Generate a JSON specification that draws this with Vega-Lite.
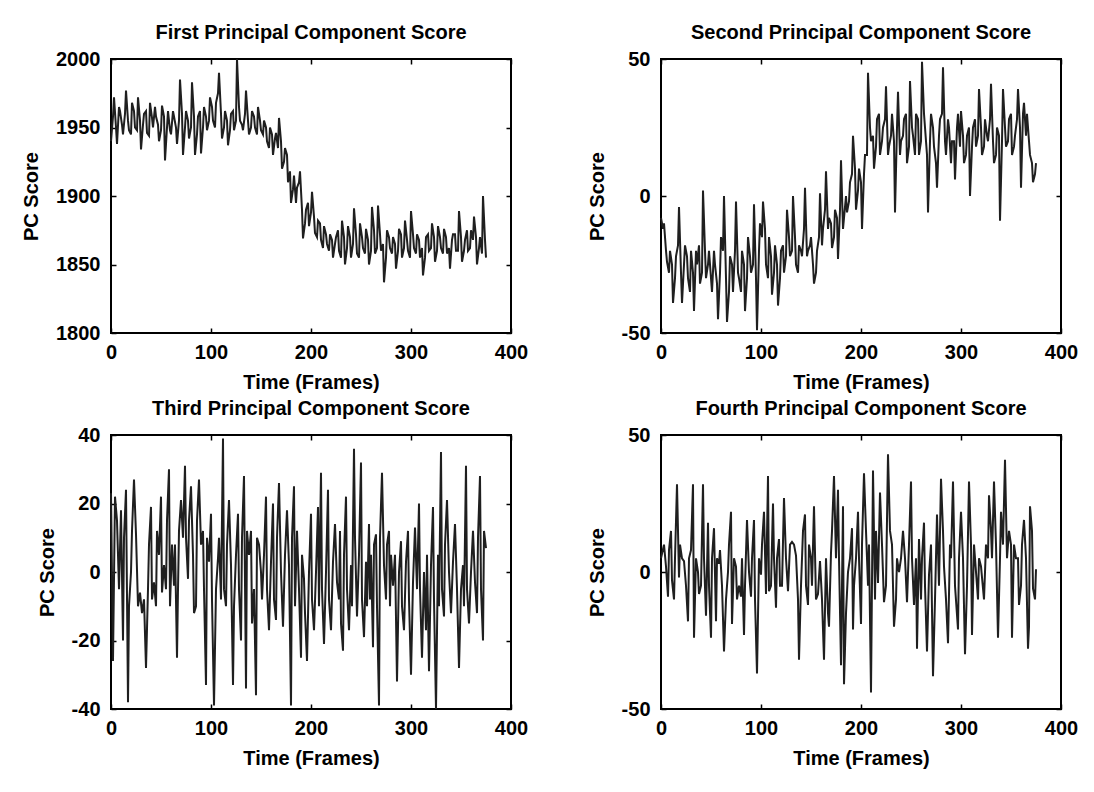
{
  "$schema": "https://vega.github.io/schema/vega-lite/v6.json",
  "background": "white",
  "padding": {"left": 20, "top": 22, "right": 10, "bottom": 10},
  "config": {
    "font": "Liberation Sans",
    "view": {"stroke": "black", "strokeWidth": 2},
    "line": {"color": "#1f1f1f", "strokeWidth": 2},
    "axis": {
      "grid": false, "domain": false, "tickColor": "black", "tickWidth": 1.5, "tickSize": -5,
      "labelFont": "Liberation Sans", "labelFontSize": 20, "labelFontWeight": "bold", "labelColor": "black",
      "titleFont": "Liberation Sans", "titleFontSize": 20, "titleFontWeight": "bold", "titleColor": "black",
      "labelOverlap": false, "labelFlush": false, "labelExpr": "datum.value + ''"
    },
    "axisX": {"labelPadding": 14, "titlePadding": 10},
    "axisY": {"labelPadding": 16, "titlePadding": 14},
    "title": {"font": "Liberation Sans", "fontSize": 20, "fontWeight": "bold", "color": "black", "offset": 6}
  },
  "datasets": {
    "pc1": [{"frame":0,"score":1940},{"frame":3,"score":1972},{"frame":6,"score":1938},{"frame":9,"score":1962},{"frame":12,"score":1945},{"frame":15,"score":1977},{"frame":18,"score":1948},{"frame":21,"score":1968},{"frame":24,"score":1950},{"frame":27,"score":1972},{"frame":30,"score":1934},{"frame":33,"score":1960},{"frame":36,"score":1946},{"frame":39,"score":1968},{"frame":42,"score":1950},{"frame":45,"score":1958},{"frame":48,"score":1940},{"frame":51,"score":1966},{"frame":54,"score":1926},{"frame":57,"score":1962},{"frame":60,"score":1945},{"frame":63,"score":1958},{"frame":66,"score":1938},{"frame":69,"score":1985},{"frame":72,"score":1930},{"frame":75,"score":1962},{"frame":78,"score":1942},{"frame":81,"score":1983},{"frame":84,"score":1930},{"frame":87,"score":1958},{"frame":90,"score":1931},{"frame":93,"score":1965},{"frame":96,"score":1948},{"frame":99,"score":1972},{"frame":102,"score":1955},{"frame":105,"score":1968},{"frame":108,"score":1990},{"frame":111,"score":1942},{"frame":114,"score":1962},{"frame":117,"score":1937},{"frame":120,"score":1960},{"frame":123,"score":1948},{"frame":126,"score":2000},{"frame":129,"score":1955},{"frame":132,"score":1948},{"frame":135,"score":1977},{"frame":138,"score":1945},{"frame":141,"score":1962},{"frame":144,"score":1950},{"frame":147,"score":1965},{"frame":150,"score":1948},{"frame":153,"score":1955},{"frame":156,"score":1940},{"frame":159,"score":1950},{"frame":162,"score":1930},{"frame":165,"score":1946},{"frame":168,"score":1957},{"frame":171,"score":1920},{"frame":174,"score":1935},{"frame":177,"score":1910},{"frame":180,"score":1895},{"frame":183,"score":1915},{"frame":186,"score":1906},{"frame":189,"score":1918},{"frame":192,"score":1869},{"frame":195,"score":1890},{"frame":198,"score":1878},{"frame":201,"score":1903},{"frame":204,"score":1873},{"frame":207,"score":1882},{"frame":210,"score":1868},{"frame":213,"score":1878},{"frame":216,"score":1865},{"frame":219,"score":1872},{"frame":222,"score":1855},{"frame":225,"score":1870},{"frame":228,"score":1860},{"frame":231,"score":1882},{"frame":234,"score":1850},{"frame":237,"score":1878},{"frame":240,"score":1855},{"frame":243,"score":1891},{"frame":246,"score":1858},{"frame":249,"score":1880},{"frame":252,"score":1862},{"frame":255,"score":1876},{"frame":258,"score":1850},{"frame":261,"score":1892},{"frame":264,"score":1858},{"frame":267,"score":1893},{"frame":270,"score":1860},{"frame":273,"score":1837},{"frame":276,"score":1875},{"frame":279,"score":1862},{"frame":282,"score":1870},{"frame":285,"score":1847},{"frame":288,"score":1876},{"frame":291,"score":1855},{"frame":294,"score":1882},{"frame":297,"score":1860},{"frame":300,"score":1889},{"frame":303,"score":1862},{"frame":306,"score":1872},{"frame":309,"score":1855},{"frame":312,"score":1842},{"frame":315,"score":1870},{"frame":318,"score":1860},{"frame":321,"score":1880},{"frame":324,"score":1852},{"frame":327,"score":1878},{"frame":330,"score":1862},{"frame":333,"score":1876},{"frame":336,"score":1858},{"frame":339,"score":1847},{"frame":342,"score":1872},{"frame":345,"score":1860},{"frame":348,"score":1889},{"frame":351,"score":1852},{"frame":354,"score":1868},{"frame":357,"score":1860},{"frame":360,"score":1875},{"frame":363,"score":1885},{"frame":366,"score":1850},{"frame":369,"score":1870},{"frame":372,"score":1900},{"frame":375,"score":1855},
      {"frame":2,"score":1958},{"frame":5,"score":1950},{"frame":8,"score":1965},{"frame":11,"score":1952},{"frame":14,"score":1960},{"frame":17,"score":1955},{"frame":20,"score":1945},{"frame":23,"score":1962},{"frame":26,"score":1948},{"frame":29,"score":1955},{"frame":32,"score":1952},{"frame":35,"score":1962},{"frame":38,"score":1944},{"frame":41,"score":1957},{"frame":44,"score":1965},{"frame":47,"score":1952},{"frame":50,"score":1948},{"frame":53,"score":1958},{"frame":56,"score":1950},{"frame":59,"score":1948},{"frame":62,"score":1962},{"frame":65,"score":1950},{"frame":68,"score":1955},{"frame":71,"score":1960},{"frame":74,"score":1950},{"frame":77,"score":1955},{"frame":80,"score":1950},{"frame":83,"score":1958},{"frame":86,"score":1945},{"frame":89,"score":1962},{"frame":92,"score":1950},{"frame":95,"score":1958},{"frame":98,"score":1955},{"frame":101,"score":1965},{"frame":104,"score":1950},{"frame":107,"score":1975},{"frame":110,"score":1960},{"frame":113,"score":1950},{"frame":116,"score":1955},{"frame":119,"score":1948},{"frame":122,"score":1962},{"frame":125,"score":1955},{"frame":128,"score":1965},{"frame":131,"score":1952},{"frame":134,"score":1960},{"frame":137,"score":1955},{"frame":140,"score":1950},{"frame":143,"score":1958},{"frame":146,"score":1945},{"frame":149,"score":1955},{"frame":152,"score":1945},{"frame":155,"score":1950},{"frame":158,"score":1935},{"frame":161,"score":1945},{"frame":164,"score":1942},{"frame":167,"score":1935},{"frame":170,"score":1940},{"frame":173,"score":1925},{"frame":176,"score":1930},{"frame":179,"score":1918},{"frame":182,"score":1905},{"frame":185,"score":1895},{"frame":188,"score":1910},{"frame":191,"score":1890},{"frame":194,"score":1880},{"frame":197,"score":1895},{"frame":200,"score":1888},{"frame":203,"score":1885},{"frame":206,"score":1870},{"frame":209,"score":1880},{"frame":212,"score":1862},{"frame":215,"score":1872},{"frame":218,"score":1860},{"frame":221,"score":1868},{"frame":224,"score":1865},{"frame":227,"score":1875},{"frame":230,"score":1855},{"frame":233,"score":1870},{"frame":236,"score":1862},{"frame":239,"score":1870},{"frame":242,"score":1865},{"frame":245,"score":1872},{"frame":248,"score":1855},{"frame":251,"score":1870},{"frame":254,"score":1858},{"frame":257,"score":1868},{"frame":260,"score":1860},{"frame":263,"score":1875},{"frame":266,"score":1862},{"frame":269,"score":1872},{"frame":272,"score":1865},{"frame":275,"score":1855},{"frame":278,"score":1870},{"frame":281,"score":1858},{"frame":284,"score":1865},{"frame":287,"score":1860},{"frame":290,"score":1872},{"frame":293,"score":1862},{"frame":296,"score":1868},{"frame":299,"score":1855},{"frame":302,"score":1872},{"frame":305,"score":1858},{"frame":308,"score":1868},{"frame":311,"score":1862},{"frame":314,"score":1855},{"frame":317,"score":1872},{"frame":320,"score":1862},{"frame":323,"score":1870},{"frame":326,"score":1860},{"frame":329,"score":1870},{"frame":332,"score":1858},{"frame":335,"score":1870},{"frame":338,"score":1862},{"frame":341,"score":1868},{"frame":344,"score":1872},{"frame":347,"score":1860},{"frame":350,"score":1870},{"frame":353,"score":1860},{"frame":356,"score":1875},{"frame":359,"score":1862},{"frame":362,"score":1868},{"frame":365,"score":1870},{"frame":368,"score":1862},{"frame":371,"score":1858},{"frame":374,"score":1868}],
    "pc2": [{"frame":0,"score":-8},{"frame":3,"score":-10},{"frame":6,"score":-24},{"frame":9,"score":-20},{"frame":12,"score":-39},{"frame":15,"score":-22},{"frame":18,"score":-4},{"frame":21,"score":-39},{"frame":24,"score":-18},{"frame":27,"score":-30},{"frame":30,"score":-20},{"frame":33,"score":-42},{"frame":36,"score":-25},{"frame":39,"score":-32},{"frame":42,"score":2},{"frame":45,"score":-30},{"frame":48,"score":-20},{"frame":51,"score":-35},{"frame":54,"score":-25},{"frame":57,"score":-45},{"frame":60,"score":-15},{"frame":63,"score":0},{"frame":66,"score":-46},{"frame":69,"score":-22},{"frame":72,"score":-35},{"frame":75,"score":-2},{"frame":78,"score":-30},{"frame":81,"score":-20},{"frame":84,"score":-42},{"frame":87,"score":-15},{"frame":90,"score":-28},{"frame":93,"score":-3},{"frame":96,"score":-49},{"frame":99,"score":-10},{"frame":102,"score":-2},{"frame":105,"score":-25},{"frame":108,"score":-15},{"frame":111,"score":-36},{"frame":114,"score":-18},{"frame":117,"score":-40},{"frame":120,"score":-20},{"frame":123,"score":-28},{"frame":126,"score":-5},{"frame":129,"score":-22},{"frame":132,"score":0},{"frame":135,"score":-25},{"frame":138,"score":-18},{"frame":141,"score":-22},{"frame":144,"score":3},{"frame":147,"score":-20},{"frame":150,"score":-15},{"frame":153,"score":-32},{"frame":156,"score":-20},{"frame":159,"score":1},{"frame":162,"score":-12},{"frame":165,"score":9},{"frame":168,"score":-8},{"frame":171,"score":-19},{"frame":174,"score":-5},{"frame":177,"score":-23},{"frame":180,"score":13},{"frame":183,"score":-8},{"frame":186,"score":-6},{"frame":189,"score":5},{"frame":192,"score":22},{"frame":195,"score":-5},{"frame":198,"score":10},{"frame":201,"score":-12},{"frame":204,"score":15},{"frame":207,"score":45},{"frame":210,"score":20},{"frame":213,"score":10},{"frame":216,"score":28},{"frame":219,"score":15},{"frame":222,"score":25},{"frame":225,"score":40},{"frame":228,"score":18},{"frame":231,"score":30},{"frame":234,"score":-6},{"frame":237,"score":38},{"frame":240,"score":20},{"frame":243,"score":28},{"frame":246,"score":12},{"frame":249,"score":42},{"frame":252,"score":22},{"frame":255,"score":30},{"frame":258,"score":15},{"frame":261,"score":49},{"frame":264,"score":25},{"frame":267,"score":-6},{"frame":270,"score":30},{"frame":273,"score":18},{"frame":276,"score":3},{"frame":279,"score":28},{"frame":282,"score":47},{"frame":285,"score":15},{"frame":288,"score":25},{"frame":291,"score":20},{"frame":294,"score":6},{"frame":297,"score":30},{"frame":300,"score":31},{"frame":303,"score":12},{"frame":306,"score":22},{"frame":309,"score":0},{"frame":312,"score":25},{"frame":315,"score":18},{"frame":318,"score":39},{"frame":321,"score":15},{"frame":324,"score":28},{"frame":327,"score":20},{"frame":330,"score":41},{"frame":333,"score":12},{"frame":336,"score":25},{"frame":339,"score":-9},{"frame":342,"score":39},{"frame":345,"score":18},{"frame":348,"score":28},{"frame":351,"score":15},{"frame":354,"score":22},{"frame":357,"score":39},{"frame":360,"score":3},{"frame":363,"score":34},{"frame":366,"score":30},{"frame":369,"score":15},{"frame":372,"score":5},{"frame":375,"score":12},
      {"frame":2,"score":-12},{"frame":5,"score":-20},{"frame":8,"score":-28},{"frame":11,"score":-25},{"frame":14,"score":-30},{"frame":17,"score":-18},{"frame":20,"score":-28},{"frame":23,"score":-25},{"frame":26,"score":-22},{"frame":29,"score":-35},{"frame":32,"score":-28},{"frame":35,"score":-20},{"frame":38,"score":-18},{"frame":41,"score":-28},{"frame":44,"score":-20},{"frame":47,"score":-25},{"frame":50,"score":-30},{"frame":53,"score":-20},{"frame":56,"score":-32},{"frame":59,"score":-28},{"frame":62,"score":-20},{"frame":65,"score":-30},{"frame":68,"score":-35},{"frame":71,"score":-25},{"frame":74,"score":-20},{"frame":77,"score":-28},{"frame":80,"score":-35},{"frame":83,"score":-25},{"frame":86,"score":-30},{"frame":89,"score":-22},{"frame":92,"score":-25},{"frame":95,"score":-30},{"frame":98,"score":-20},{"frame":101,"score":-15},{"frame":104,"score":-12},{"frame":107,"score":-30},{"frame":110,"score":-22},{"frame":113,"score":-28},{"frame":116,"score":-25},{"frame":119,"score":-30},{"frame":122,"score":-18},{"frame":125,"score":-22},{"frame":128,"score":-15},{"frame":131,"score":-20},{"frame":134,"score":-15},{"frame":137,"score":-28},{"frame":140,"score":-20},{"frame":143,"score":-12},{"frame":146,"score":-22},{"frame":149,"score":-18},{"frame":152,"score":-25},{"frame":155,"score":-28},{"frame":158,"score":-15},{"frame":161,"score":-18},{"frame":164,"score":-5},{"frame":167,"score":-12},{"frame":170,"score":-10},{"frame":173,"score":-15},{"frame":176,"score":-8},{"frame":179,"score":-5},{"frame":182,"score":-12},{"frame":185,"score":0},{"frame":188,"score":-2},{"frame":191,"score":8},{"frame":194,"score":10},{"frame":197,"score":2},{"frame":200,"score":5},{"frame":203,"score":8},{"frame":206,"score":15},{"frame":209,"score":25},{"frame":212,"score":22},{"frame":215,"score":18},{"frame":218,"score":30},{"frame":221,"score":20},{"frame":224,"score":28},{"frame":227,"score":15},{"frame":230,"score":22},{"frame":233,"score":20},{"frame":236,"score":25},{"frame":239,"score":15},{"frame":242,"score":22},{"frame":245,"score":30},{"frame":248,"score":18},{"frame":251,"score":25},{"frame":254,"score":15},{"frame":257,"score":28},{"frame":260,"score":20},{"frame":263,"score":30},{"frame":266,"score":15},{"frame":269,"score":20},{"frame":272,"score":25},{"frame":275,"score":12},{"frame":278,"score":22},{"frame":281,"score":30},{"frame":284,"score":20},{"frame":287,"score":28},{"frame":290,"score":12},{"frame":293,"score":20},{"frame":296,"score":25},{"frame":299,"score":18},{"frame":302,"score":22},{"frame":305,"score":15},{"frame":308,"score":25},{"frame":311,"score":18},{"frame":314,"score":28},{"frame":317,"score":22},{"frame":320,"score":25},{"frame":323,"score":18},{"frame":326,"score":22},{"frame":329,"score":28},{"frame":332,"score":20},{"frame":335,"score":15},{"frame":338,"score":22},{"frame":341,"score":20},{"frame":344,"score":25},{"frame":347,"score":20},{"frame":350,"score":30},{"frame":353,"score":18},{"frame":356,"score":28},{"frame":359,"score":25},{"frame":362,"score":30},{"frame":365,"score":22},{"frame":368,"score":20},{"frame":371,"score":12},{"frame":374,"score":8}],
    "pc3": [{"frame":0,"score":23},{"frame":2,"score":-26},{"frame":4,"score":22},{"frame":6,"score":15},{"frame":8,"score":-5},{"frame":10,"score":18},{"frame":12,"score":-20},{"frame":15,"score":24},{"frame":17,"score":-38},{"frame":20,"score":0},{"frame":23,"score":27},{"frame":25,"score":11},{"frame":27,"score":-10},{"frame":29,"score":-6},{"frame":31,"score":-12},{"frame":33,"score":-8},{"frame":35,"score":-28},{"frame":37,"score":-5},{"frame":40,"score":19},{"frame":43,"score":-3},{"frame":45,"score":-10},{"frame":48,"score":5},{"frame":50,"score":22},{"frame":53,"score":2},{"frame":55,"score":-5},{"frame":58,"score":30},{"frame":61,"score":8},{"frame":63,"score":-4},{"frame":66,"score":-25},{"frame":70,"score":21},{"frame":72,"score":10},{"frame":74,"score":31},{"frame":77,"score":-2},{"frame":80,"score":25},{"frame":82,"score":5},{"frame":85,"score":-10},{"frame":88,"score":27},{"frame":90,"score":8},{"frame":92,"score":12},{"frame":95,"score":-33},{"frame":98,"score":3},{"frame":100,"score":17},{"frame":103,"score":-39},{"frame":105,"score":-5},{"frame":107,"score":4},{"frame":110,"score":-8},{"frame":112,"score":39},{"frame":115,"score":-10},{"frame":118,"score":21},{"frame":120,"score":2},{"frame":122,"score":-33},{"frame":125,"score":5},{"frame":127,"score":17},{"frame":130,"score":-20},{"frame":133,"score":28},{"frame":135,"score":-34},{"frame":138,"score":5},{"frame":140,"score":12},{"frame":143,"score":-5},{"frame":145,"score":-36},{"frame":148,"score":8},{"frame":150,"score":0},{"frame":153,"score":5},{"frame":155,"score":22},{"frame":158,"score":-17},{"frame":160,"score":3},{"frame":162,"score":20},{"frame":165,"score":-14},{"frame":168,"score":26},{"frame":170,"score":0},{"frame":172,"score":-16},{"frame":174,"score":5},{"frame":176,"score":18},{"frame":178,"score":2},{"frame":180,"score":-39},{"frame":183,"score":25},{"frame":186,"score":12},{"frame":188,"score":-5},{"frame":190,"score":-25},{"frame":193,"score":-2},{"frame":196,"score":-26},{"frame":198,"score":0},{"frame":200,"score":17},{"frame":203,"score":-17},{"frame":205,"score":0},{"frame":207,"score":19},{"frame":210,"score":29},{"frame":213,"score":-21},{"frame":215,"score":0},{"frame":217,"score":24},{"frame":220,"score":-17},{"frame":222,"score":3},{"frame":224,"score":14},{"frame":226,"score":-3},{"frame":228,"score":-8},{"frame":232,"score":-23},{"frame":235,"score":22},{"frame":238,"score":-17},{"frame":240,"score":2},{"frame":243,"score":36},{"frame":246,"score":-13},{"frame":248,"score":5},{"frame":250,"score":32},{"frame":253,"score":-19},{"frame":255,"score":3},{"frame":258,"score":14},{"frame":262,"score":-22},{"frame":265,"score":11},{"frame":268,"score":-39},{"frame":271,"score":29},{"frame":273,"score":2},{"frame":275,"score":-8},{"frame":278,"score":12},{"frame":282,"score":-4},{"frame":284,"score":5},{"frame":286,"score":-32},{"frame":288,"score":0},{"frame":290,"score":9},{"frame":293,"score":-17},{"frame":295,"score":3},{"frame":297,"score":12},{"frame":300,"score":-30},{"frame":302,"score":-3},{"frame":304,"score":13},{"frame":306,"score":-5},{"frame":308,"score":20},{"frame":311,"score":-25},{"frame":313,"score":0},{"frame":315,"score":-17},{"frame":318,"score":-29},{"frame":320,"score":2},{"frame":322,"score":19},{"frame":325,"score":-40},{"frame":327,"score":5},{"frame":330,"score":35},{"frame":333,"score":-13},{"frame":336,"score":21},{"frame":338,"score":0},{"frame":340,"score":-12},{"frame":342,"score":3},{"frame":344,"score":14},{"frame":346,"score":-5},{"frame":348,"score":-28},{"frame":350,"score":-5},{"frame":352,"score":2},{"frame":355,"score":31},{"frame":358,"score":-15},{"frame":360,"score":0},{"frame":362,"score":12},{"frame":364,"score":-3},{"frame":366,"score":-12},{"frame":369,"score":28},{"frame":372,"score":-20},{"frame":375,"score":7},
      {"frame":13,"score":10},{"frame":18,"score":-10},{"frame":21,"score":12},{"frame":38,"score":8},{"frame":41,"score":-8},{"frame":46,"score":12},{"frame":51,"score":-6},{"frame":56,"score":15},{"frame":59,"score":-10},{"frame":64,"score":8},{"frame":67,"score":-5},{"frame":68,"score":12},{"frame":75,"score":10},{"frame":78,"score":15},{"frame":83,"score":-12},{"frame":86,"score":15},{"frame":93,"score":-5},{"frame":96,"score":10},{"frame":101,"score":-8},{"frame":108,"score":10},{"frame":113,"score":-5},{"frame":116,"score":8},{"frame":123,"score":-10},{"frame":128,"score":-5},{"frame":131,"score":10},{"frame":136,"score":12},{"frame":141,"score":-15},{"frame":146,"score":10},{"frame":151,"score":-8},{"frame":156,"score":-5},{"frame":163,"score":-8},{"frame":166,"score":10},{"frame":181,"score":10},{"frame":184,"score":-10},{"frame":191,"score":5},{"frame":194,"score":-12},{"frame":201,"score":-8},{"frame":208,"score":-10},{"frame":211,"score":-5},{"frame":218,"score":-8},{"frame":229,"score":12},{"frame":230,"score":-15},{"frame":233,"score":5},{"frame":236,"score":-5},{"frame":241,"score":-10},{"frame":244,"score":10},{"frame":251,"score":-8},{"frame":256,"score":-10},{"frame":259,"score":-8},{"frame":260,"score":5},{"frame":263,"score":8},{"frame":266,"score":-10},{"frame":269,"score":10},{"frame":276,"score":8},{"frame":279,"score":-10},{"frame":280,"score":5},{"frame":291,"score":-10},{"frame":298,"score":-8},{"frame":309,"score":-5},{"frame":316,"score":5},{"frame":323,"score":-8},{"frame":328,"score":-10},{"frame":331,"score":-5},{"frame":334,"score":8},{"frame":353,"score":-10},{"frame":356,"score":-5},{"frame":367,"score":10},{"frame":370,"score":-5},{"frame":373,"score":12}],
    "pc4": [{"frame":0,"score":5},{"frame":3,"score":10},{"frame":7,"score":-9},{"frame":10,"score":15},{"frame":13,"score":-10},{"frame":16,"score":32},{"frame":18,"score":-2},{"frame":21,"score":5},{"frame":23,"score":4},{"frame":27,"score":-18},{"frame":30,"score":8},{"frame":32,"score":32},{"frame":33,"score":-24},{"frame":37,"score":0},{"frame":40,"score":-5},{"frame":42,"score":32},{"frame":45,"score":-16},{"frame":47,"score":18},{"frame":50,"score":-24},{"frame":53,"score":16},{"frame":55,"score":-18},{"frame":58,"score":3},{"frame":59,"score":8},{"frame":63,"score":-29},{"frame":67,"score":0},{"frame":70,"score":22},{"frame":71,"score":-19},{"frame":75,"score":2},{"frame":78,"score":-5},{"frame":80,"score":-9},{"frame":83,"score":-23},{"frame":86,"score":19},{"frame":88,"score":0},{"frame":90,"score":-9},{"frame":93,"score":19},{"frame":96,"score":-37},{"frame":98,"score":5},{"frame":100,"score":-1},{"frame":103,"score":22},{"frame":107,"score":35},{"frame":108,"score":-7},{"frame":112,"score":25},{"frame":115,"score":-13},{"frame":118,"score":12},{"frame":121,"score":-5},{"frame":123,"score":27},{"frame":127,"score":-7},{"frame":131,"score":11},{"frame":133,"score":10},{"frame":135,"score":6},{"frame":138,"score":-32},{"frame":142,"score":15},{"frame":144,"score":21},{"frame":147,"score":-12},{"frame":150,"score":5},{"frame":153,"score":24},{"frame":155,"score":-10},{"frame":159,"score":4},{"frame":163,"score":-32},{"frame":167,"score":-15},{"frame":170,"score":7},{"frame":173,"score":35},{"frame":177,"score":30},{"frame":180,"score":-34},{"frame":182,"score":24},{"frame":183,"score":-41},{"frame":187,"score":0},{"frame":191,"score":16},{"frame":192,"score":-21},{"frame":195,"score":5},{"frame":197,"score":22},{"frame":200,"score":-19},{"frame":203,"score":36},{"frame":207,"score":-5},{"frame":210,"score":-44},{"frame":212,"score":37},{"frame":217,"score":-4},{"frame":219,"score":29},{"frame":223,"score":-11},{"frame":227,"score":43},{"frame":229,"score":15},{"frame":233,"score":-20},{"frame":236,"score":5},{"frame":238,"score":0},{"frame":242,"score":15},{"frame":246,"score":-11},{"frame":250,"score":33},{"frame":253,"score":-12},{"frame":256,"score":-28},{"frame":258,"score":12},{"frame":261,"score":5},{"frame":263,"score":18},{"frame":266,"score":-29},{"frame":268,"score":-1},{"frame":272,"score":-38},{"frame":276,"score":21},{"frame":280,"score":34},{"frame":283,"score":2},{"frame":287,"score":-26},{"frame":290,"score":5},{"frame":292,"score":33},{"frame":297,"score":-21},{"frame":300,"score":22},{"frame":304,"score":-30},{"frame":308,"score":33},{"frame":311,"score":-23},{"frame":315,"score":0},{"frame":318,"score":5},{"frame":320,"score":2},{"frame":325,"score":10},{"frame":328,"score":28},{"frame":331,"score":5},{"frame":333,"score":33},{"frame":337,"score":-24},{"frame":340,"score":22},{"frame":344,"score":41},{"frame":348,"score":15},{"frame":351,"score":-24},{"frame":355,"score":5},{"frame":358,"score":-12},{"frame":361,"score":10},{"frame":363,"score":19},{"frame":367,"score":-28},{"frame":369,"score":24},{"frame":372,"score":-6},{"frame":375,"score":1},
      {"frame":5,"score":2},{"frame":8,"score":8},{"frame":11,"score":-3},{"frame":14,"score":5},{"frame":19,"score":10},{"frame":25,"score":-5},{"frame":28,"score":5},{"frame":35,"score":5},{"frame":38,"score":-8},{"frame":43,"score":5},{"frame":48,"score":-5},{"frame":51,"score":5},{"frame":56,"score":5},{"frame":61,"score":-5},{"frame":65,"score":-10},{"frame":68,"score":10},{"frame":73,"score":5},{"frame":76,"score":-10},{"frame":81,"score":5},{"frame":84,"score":-5},{"frame":91,"score":5},{"frame":94,"score":-10},{"frame":101,"score":10},{"frame":105,"score":-8},{"frame":110,"score":-5},{"frame":113,"score":5},{"frame":116,"score":5},{"frame":119,"score":-5},{"frame":125,"score":5},{"frame":129,"score":10},{"frame":137,"score":-10},{"frame":140,"score":-5},{"frame":145,"score":-5},{"frame":148,"score":10},{"frame":151,"score":-5},{"frame":157,"score":-8},{"frame":161,"score":-10},{"frame":165,"score":5},{"frame":168,"score":-20},{"frame":171,"score":15},{"frame":175,"score":5},{"frame":178,"score":5},{"frame":185,"score":-15},{"frame":189,"score":5},{"frame":193,"score":-5},{"frame":198,"score":5},{"frame":201,"score":10},{"frame":205,"score":15},{"frame":208,"score":10},{"frame":214,"score":-10},{"frame":215,"score":15},{"frame":221,"score":10},{"frame":225,"score":-5},{"frame":231,"score":10},{"frame":235,"score":-10},{"frame":240,"score":5},{"frame":244,"score":5},{"frame":248,"score":10},{"frame":251,"score":5},{"frame":255,"score":5},{"frame":260,"score":-10},{"frame":264,"score":-5},{"frame":270,"score":10},{"frame":274,"score":-10},{"frame":278,"score":-5},{"frame":282,"score":15},{"frame":285,"score":-10},{"frame":289,"score":10},{"frame":294,"score":-5},{"frame":298,"score":5},{"frame":302,"score":5},{"frame":306,"score":-5},{"frame":310,"score":10},{"frame":313,"score":10},{"frame":317,"score":-10},{"frame":323,"score":-10},{"frame":327,"score":5},{"frame":330,"score":15},{"frame":335,"score":10},{"frame":339,"score":5},{"frame":342,"score":10},{"frame":346,"score":5},{"frame":350,"score":10},{"frame":353,"score":10},{"frame":357,"score":5},{"frame":360,"score":-5},{"frame":365,"score":5},{"frame":368,"score":-20},{"frame":371,"score":15},{"frame":374,"score":-10}]
  },
  "columns": 2,
  "bounds": "flush",
  "spacing": {"row": 102, "column": 150},
  "concat": [
    {
      "title": "First Principal Component Score",
      "width": 400, "height": 274,
      "data": {"name": "pc1"},
      "layer": [
        {"mark": {"type": "line"},
         "encoding": {
           "x": {"field": "frame", "type": "quantitative", "scale": {"domain": [0, 400]}, "axis": {"title": "Time (Frames)", "values": [0, 100, 200, 300, 400]}},
           "y": {"field": "score", "type": "quantitative", "scale": {"domain": [1800, 2000]}, "axis": {"title": "PC Score", "values": [1800, 1850, 1900, 1950, 2000]}}}},
        {"mark": {"type": "line", "opacity": 0},
         "encoding": {
           "x": {"field": "frame", "type": "quantitative", "axis": {"orient": "top", "labels": false, "title": null, "values": [0, 100, 200, 300, 400]}},
           "y": {"field": "score", "type": "quantitative", "axis": {"orient": "right", "labels": false, "title": null, "values": [1800, 1850, 1900, 1950, 2000]}}}}
      ],
      "resolve": {"axis": {"x": "independent", "y": "independent"}}
    },
    {
      "title": "Second Principal Component Score",
      "width": 400, "height": 274,
      "data": {"name": "pc2"},
      "layer": [
        {"mark": {"type": "line"},
         "encoding": {
           "x": {"field": "frame", "type": "quantitative", "scale": {"domain": [0, 400]}, "axis": {"title": "Time (Frames)", "values": [0, 100, 200, 300, 400]}},
           "y": {"field": "score", "type": "quantitative", "scale": {"domain": [-50, 50]}, "axis": {"title": "PC Score", "values": [-50, 0, 50]}}}},
        {"mark": {"type": "line", "opacity": 0},
         "encoding": {
           "x": {"field": "frame", "type": "quantitative", "axis": {"orient": "top", "labels": false, "title": null, "values": [0, 100, 200, 300, 400]}},
           "y": {"field": "score", "type": "quantitative", "axis": {"orient": "right", "labels": false, "title": null, "values": [-50, 0, 50]}}}}
      ],
      "resolve": {"axis": {"x": "independent", "y": "independent"}}
    },
    {
      "title": "Third Principal Component Score",
      "width": 400, "height": 274,
      "data": {"name": "pc3"},
      "layer": [
        {"mark": {"type": "line"},
         "encoding": {
           "x": {"field": "frame", "type": "quantitative", "scale": {"domain": [0, 400]}, "axis": {"title": "Time (Frames)", "values": [0, 100, 200, 300, 400]}},
           "y": {"field": "score", "type": "quantitative", "scale": {"domain": [-40, 40]}, "axis": {"title": "PC Score", "values": [-40, -20, 0, 20, 40]}}}},
        {"mark": {"type": "line", "opacity": 0},
         "encoding": {
           "x": {"field": "frame", "type": "quantitative", "axis": {"orient": "top", "labels": false, "title": null, "values": [0, 100, 200, 300, 400]}},
           "y": {"field": "score", "type": "quantitative", "axis": {"orient": "right", "labels": false, "title": null, "values": [-40, -20, 0, 20, 40]}}}}
      ],
      "resolve": {"axis": {"x": "independent", "y": "independent"}}
    },
    {
      "title": "Fourth Principal Component Score",
      "width": 400, "height": 274,
      "data": {"name": "pc4"},
      "layer": [
        {"mark": {"type": "line"},
         "encoding": {
           "x": {"field": "frame", "type": "quantitative", "scale": {"domain": [0, 400]}, "axis": {"title": "Time (Frames)", "values": [0, 100, 200, 300, 400]}},
           "y": {"field": "score", "type": "quantitative", "scale": {"domain": [-50, 50]}, "axis": {"title": "PC Score", "values": [-50, 0, 50]}}}},
        {"mark": {"type": "line", "opacity": 0},
         "encoding": {
           "x": {"field": "frame", "type": "quantitative", "axis": {"orient": "top", "labels": false, "title": null, "values": [0, 100, 200, 300, 400]}},
           "y": {"field": "score", "type": "quantitative", "axis": {"orient": "right", "labels": false, "title": null, "values": [-50, 0, 50]}}}}
      ],
      "resolve": {"axis": {"x": "independent", "y": "independent"}}
    }
  ]
}
